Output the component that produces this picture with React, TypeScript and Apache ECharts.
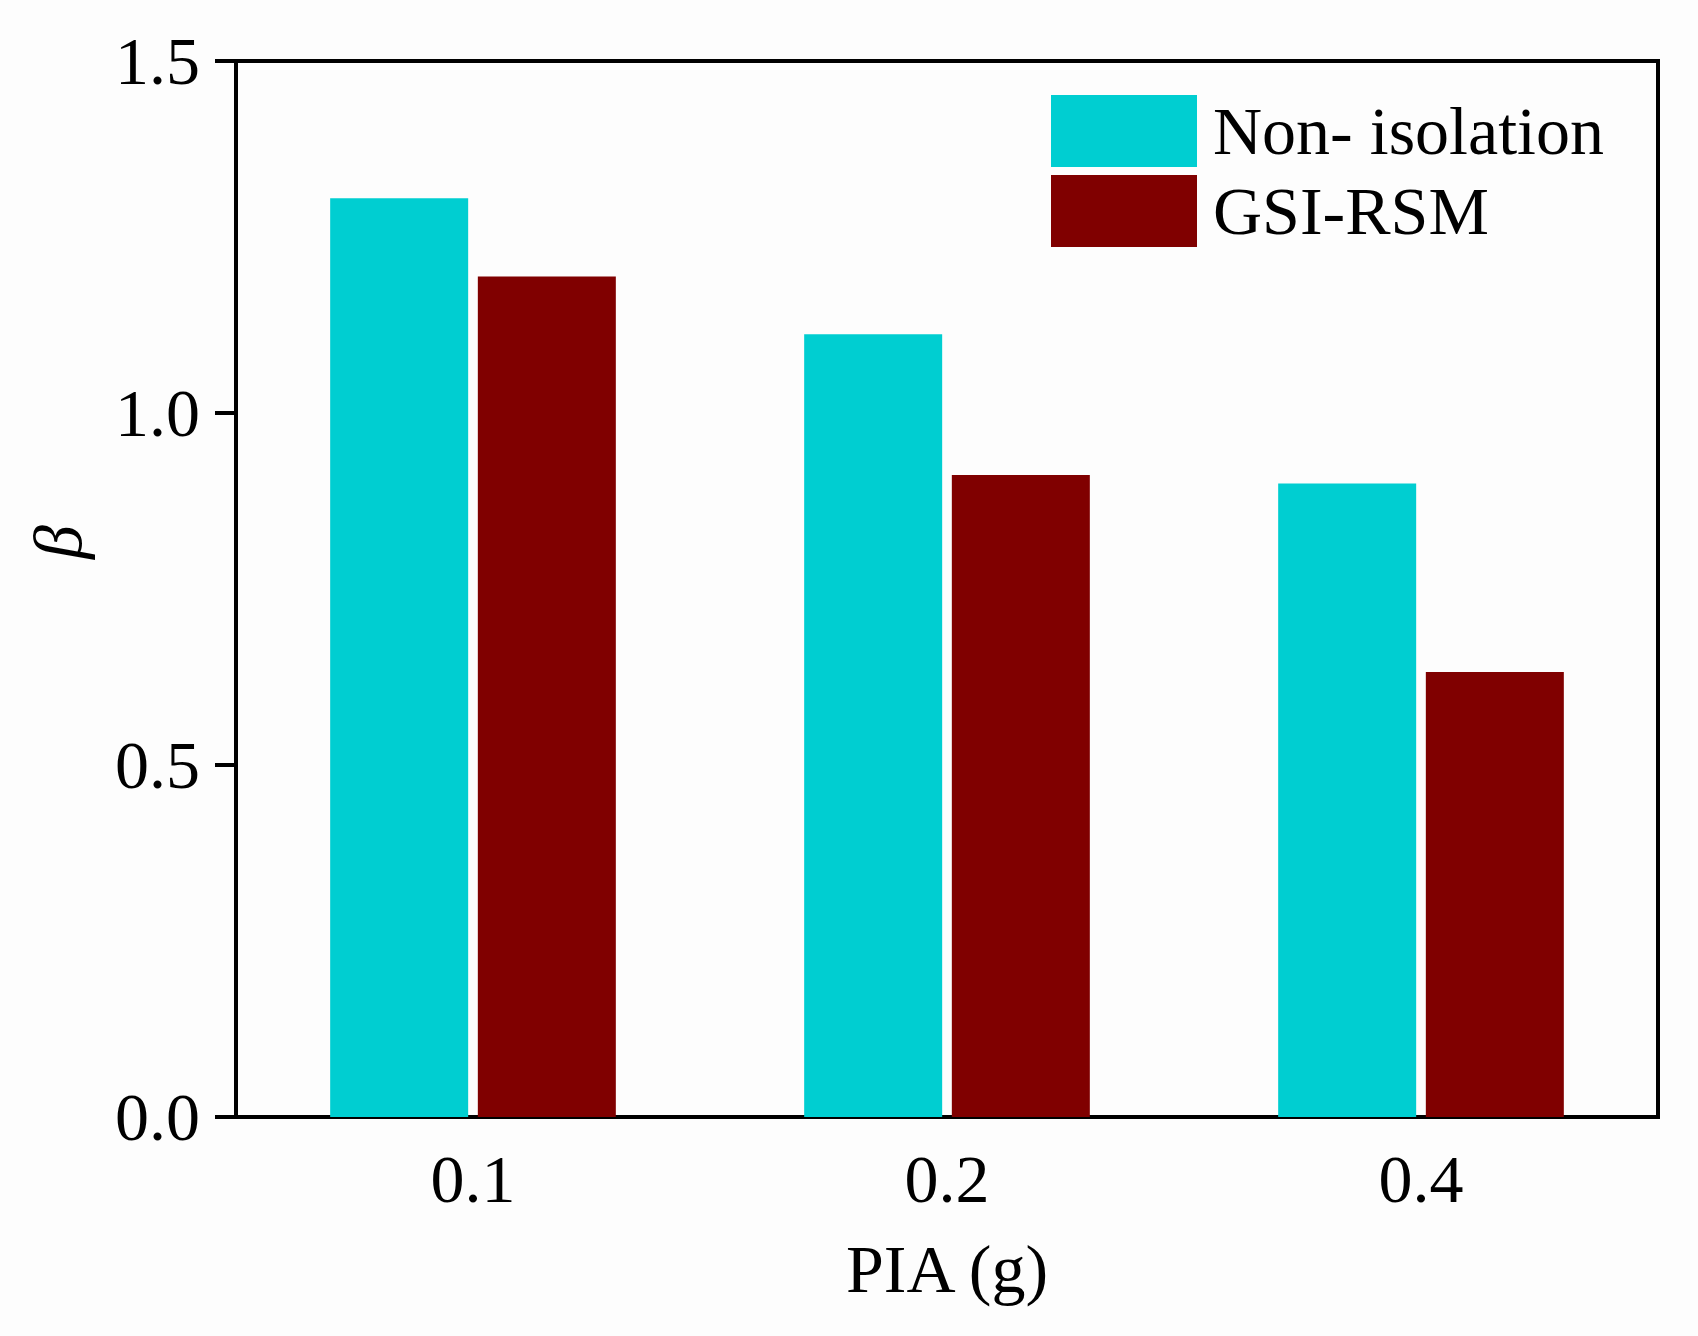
import * as echarts from "echarts";
import React, { useEffect, useRef } from "react";

const categories = ["0.1", "0.2", "0.4"];
const nonIsolation = [1.305, 1.112, 0.9];
const gsiRsm = [1.194, 0.912, 0.632];
const seriesNames = ["Non- isolation", "GSI-RSM"];

const FONT = "'Liberation Serif', 'Times New Roman', serif";

const App = () => {
  const ref = useRef<HTMLDivElement>(null);

  useEffect(() => {
    document.body.style.margin = "0";
    const axisLine = { lineStyle: { color: "#000", width: 4 } };
    const option = {
      animation: false,
      backgroundColor: "#fdfdfd",
      textStyle: { fontFamily: FONT },
      grid: {
        left: 236,
        right: 40,
        top: 61,
        bottom: 219,
        show: true,
        borderColor: "#000",
        borderWidth: 4
      },
      legend: {
        data: seriesNames,
        orient: "vertical",
        left: 1046,
        top: 90,
        icon: "rect",
        itemWidth: 146,
        itemHeight: 72,
        itemGap: 8,
        textStyle: {
          fontFamily: FONT,
          fontSize: 68,
          color: "#000",
          padding: [0, 0, 0, 11]
        }
      },
      xAxis: {
        type: "category",
        data: categories,
        name: "PIA (g)",
        nameLocation: "middle",
        nameGap: 118,
        nameTextStyle: { fontFamily: FONT, fontSize: 68, color: "#000" },
        axisLine,
        axisTick: {
          alignWithLabel: true,
          length: 21,
          lineStyle: { color: "#000", width: 4 }
        },
        axisLabel: {
          fontFamily: FONT,
          fontSize: 68,
          color: "#000",
          margin: 28
        },
        splitLine: { show: false }
      },
      yAxis: {
        type: "value",
        min: 0,
        max: 1.5,
        interval: 0.5,
        axisLine: { show: true, ...axisLine },
        axisTick: {
          show: true,
          length: 21,
          lineStyle: { color: "#000", width: 4 }
        },
        axisLabel: {
          fontFamily: FONT,
          fontSize: 68,
          color: "#000",
          margin: 36,
          formatter: (v: number) => v.toFixed(1)
        },
        splitLine: { show: false }
      },
      graphic: [
        {
          type: "text",
          x: 58,
          y: 542,
          rotation: Math.PI / 2,
          style: {
            text: "β",
            fontFamily: FONT,
            fontStyle: "italic",
            fontSize: 68,
            fill: "#000",
            align: "center",
            verticalAlign: "middle"
          }
        }
      ],
      series: [
        {
          name: seriesNames[0],
          type: "bar",
          data: nonIsolation,
          barWidth: 138,
          barGap: "7%",
          itemStyle: { color: "#00CED1" }
        },
        {
          name: seriesNames[1],
          type: "bar",
          data: gsiRsm,
          barWidth: 138,
          barGap: "7%",
          itemStyle: { color: "#800000" }
        }
      ]
    };
    const myChart = echarts.init(ref.current, null, { renderer: "svg" });
    myChart.setOption(option);
    return () => {
      myChart.dispose();
    };
  }, []);

  return <div ref={ref} style={{ width: 1698, height: 1336 }}></div>;
};

export default App;
